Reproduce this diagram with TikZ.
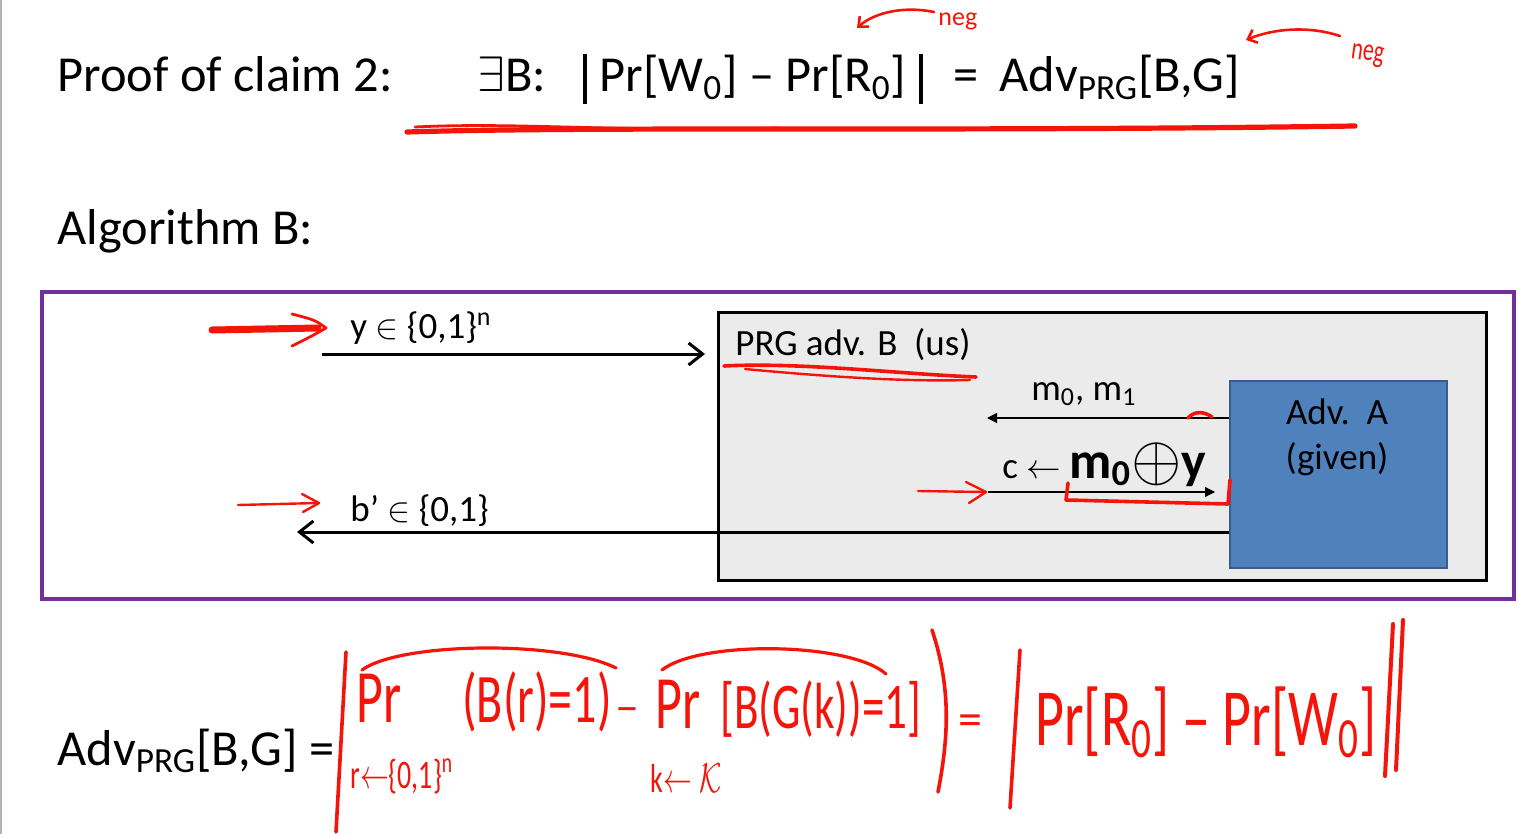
\documentclass[tikz,border=0pt]{standalone}
\usepackage{fontspec}
\setmainfont{Carlito}
\usetikzlibrary{arrows.meta}
\definecolor{slidepurple}{RGB}{112,48,160}
\definecolor{boxgray}{RGB}{235,235,235}
\definecolor{advblue}{RGB}{79,129,189}
\definecolor{advborder}{RGB}{56,93,138}
\definecolor{inkred}{RGB}{245,20,10}
\newcommand{\tallink}[1]{\scalebox{1}[1.45]{#1}}
\tikzset{
  big/.style={font=\fontsize{25.2}{30}\selectfont, inner sep=0pt},
  lbl/.style={font=\fontsize{18.5}{22}\selectfont, inner sep=0pt},
  thickarrow/.style={line width=1.5pt, -{Straight Barb[length=7pt,width=11pt,line width=1.5pt]}},
  thinarrow/.style={line width=0.6pt, -{Triangle[length=5pt,width=5pt]}},
  ink/.style={draw=inkred, line width=1.6pt, line cap=round, line join=round},
  inktext/.style={text=inkred, inner sep=0pt},
}
\begin{document}
\begin{tikzpicture}[x=0.5pt,y=-0.5pt]
\useasboundingbox (0,0) rectangle (1530,834);
\fill[white] (0,0) rectangle (1530,834);
\draw[gray!60, line width=1pt] (1,0) -- (1,834);

% title line
\node[big, anchor=base west] (title) at (57,92) {Proof of claim 2:};
\node[big, anchor=base west] (exB) at (477,92) {$\exists$B:};
\node[big, anchor=base west] (prw) at (599,92) {Pr[W\textsubscript{0}] – Pr[R\textsubscript{0}]};
\coordinate (bar1t) at (585,54); \coordinate (bar1b) at (585,104);
\coordinate (bar2t) at (921,54); \coordinate (bar2b) at (921,104);
\draw[line width=2pt] (bar1t) -- (bar1b);
\draw[line width=2pt] (bar2t) -- (bar2b);
\node[big, anchor=base west] (eqtop) at (953,92) {=};
\node[big, anchor=base west] (advtop) at (999,92) {Adv\textsubscript{PRG}[B,G]};

\node[big, anchor=base west] (algB) at (57,245) {Algorithm B:};

% boxes
\node[draw=slidepurple, line width=2pt, anchor=north west, minimum width=736pt, minimum height=153.5pt, inner sep=0pt] (frame) at (40,290) {};
\node[draw=black, fill=boxgray, line width=1.25pt, anchor=north west, minimum width=384pt, minimum height=134pt, inner sep=0pt] (prgbox) at (717,311) {};
\node[draw=advborder, fill=advblue, line width=1pt, anchor=north west, minimum width=108.5pt, minimum height=93.5pt, inner sep=0pt] (advA) at (1229,380) {};
\node[lbl, anchor=base] (advAt) at (1337,424) {Adv.\ \ A};
\node[lbl, anchor=base] (given) at (1337,469) {(given)};

\node[lbl, anchor=base west] (prgl) at (735,355) {PRG adv. B\ \ (us)};

% y arrow
\coordinate (yin) at (322,354);
\draw[thickarrow, shorten >=6pt] (yin) -- (prgbox.west |- yin);
\node[lbl, anchor=base west] (ylbl) at (350,338) {y $\in$ \{0,1\}\textsuperscript{n}};

% b' arrow
\coordinate (bout) at (297,532);
\draw[thickarrow] (advA.west |- bout) -- (bout);
\node[lbl, anchor=base west] (blbl) at (350,521) {b’ $\in$ \{0,1\}};

% m0,m1 arrow
\coordinate (mend) at (987,418);
\draw[thinarrow] (advA.west |- mend) -- (mend);
\node[lbl, anchor=base west] (mlbl) at (1031,400) {m\textsubscript{0}, m\textsubscript{1}};

% c arrow
\coordinate (cstart) at (988,492);
\draw[thinarrow, shorten >=7pt] (cstart) -- (advA.west |- cstart);
\node[lbl, anchor=base west] (clbl) at (1002,478) {c $\leftarrow$ {\bfseries\fontsize{26}{30}\selectfont m\textsubscript{0}\raisebox{-0.05em}{\scalebox{1.3}{$\oplus$}}y}};

% bottom line
\node[big, anchor=base west] (advbot) at (57,765) {Adv\textsubscript{PRG}[B,G] =};

% ---- red annotations ----
% underline of claim
\draw[ink, line width=2.6pt] (407,132) .. controls (600,126) and (950,132) .. (1355,126);
\draw[ink, line width=1.4pt] (415,127) .. controls (520,122) and (600,132) .. (780,128);
% neg arrows at top
\draw[ink, line width=1.3pt, -{Straight Barb[length=4pt,width=7pt]}] (934,12) .. controls (905,6) and (875,12) .. (857,28);
\node[inktext, anchor=base west, font=\fontsize{13}{15}\selectfont] (neg1) at (938,26) {neg};
\draw[ink, line width=1.3pt, -{Straight Barb[length=4pt,width=7pt]}] (1340,36) .. controls (1310,26) and (1275,28) .. (1246,40);
\node[inktext, anchor=base west, font=\fontsize{11}{13}\selectfont, rotate=-8] (neg2) at (1350,58) {\tallink{neg}};

% arrow left of y
\draw[ink, line width=3.5pt] (212,330) -- (318,328);
\draw[ink, line width=1.4pt] (292,314) .. controls (315,320) .. (326,328) .. controls (312,336) .. (292,346);
% arrow left of b'
\draw[ink, line width=1.2pt] (238,505) -- (318,503);
\draw[ink, line width=1.2pt] (302,494) -- (319,503) -- (303,512);
% underline PRG adv
\draw[ink, line width=1.8pt] (724,366) .. controls (800,362) and (900,374) .. (976,377);
\draw[ink, line width=1.2pt] (745,369) .. controls (820,376) and (900,382) .. (970,380);
% mark near m0,m1
\draw[ink, line width=1.8pt] (1188,418) .. controls (1195,410) and (1205,412) .. (1212,417);
% arrow before c
\draw[ink, line width=1.2pt] (918,491) -- (984,492);
\draw[ink, line width=1.2pt] (966,482) -- (986,492) -- (969,503);
% bracket under m0+y
\draw[ink, line width=1.8pt] (1068,483) -- (1066,500) -- (1228,504) -- (1230,480);

% handwritten formula
\draw[ink, line width=1.8pt] (346,652) -- (336,832);
\draw[ink] (362,670) .. controls (400,642) and (560,640) .. (616,668);
\draw[ink] (662,670) .. controls (700,640) and (850,642) .. (886,674);
\node[inktext, anchor=base west, font=\fontsize{26}{30}\selectfont] (hpr1) at (356,722) {\tallink{Pr}};
\node[inktext, anchor=base west, font=\fontsize{14}{16}\selectfont] (hsub1) at (350,788) {\tallink{r$\leftarrow$\{0,1\}\textsuperscript{n}}};
\node[inktext, anchor=base west, font=\fontsize{24}{28}\selectfont] (hbr) at (462,722) {\tallink{(B(r)=1)}};
\node[inktext, anchor=base west, font=\fontsize{24}{28}\selectfont] (hminus1) at (615,722) {–};
\node[inktext, anchor=base west, font=\fontsize{26}{30}\selectfont] (hpr2) at (655,728) {\tallink{Pr}};
\node[inktext, anchor=base west, font=\fontsize{14}{16}\selectfont] (hsub2) at (650,792) {\tallink{k$\leftarrow\mathcal{K}$}};
\node[inktext, anchor=base west, font=\fontsize{22.5}{26}\selectfont] (hbgk) at (720,728) {\tallink{[B(G(k))=1]}};
\draw[ink, line width=1.8pt] (932,630) .. controls (952,690) and (948,740) .. (938,792);
\node[inktext, anchor=base west, font=\fontsize{24}{28}\selectfont] (heq) at (958,735) {=};
\draw[ink, line width=1.8pt] (1020,650) -- (1010,808);
\node[inktext, anchor=base west, font=\fontsize{28}{32}\selectfont] (hrw) at (1035,745) {\tallink{Pr[R\textsubscript{0}] – Pr[W\textsubscript{0}]}};
\draw[ink, line width=2pt] (1393,624) -- (1385,776);
\draw[ink, line width=2pt] (1403,620) -- (1396,770);
\end{tikzpicture}
\end{document}
